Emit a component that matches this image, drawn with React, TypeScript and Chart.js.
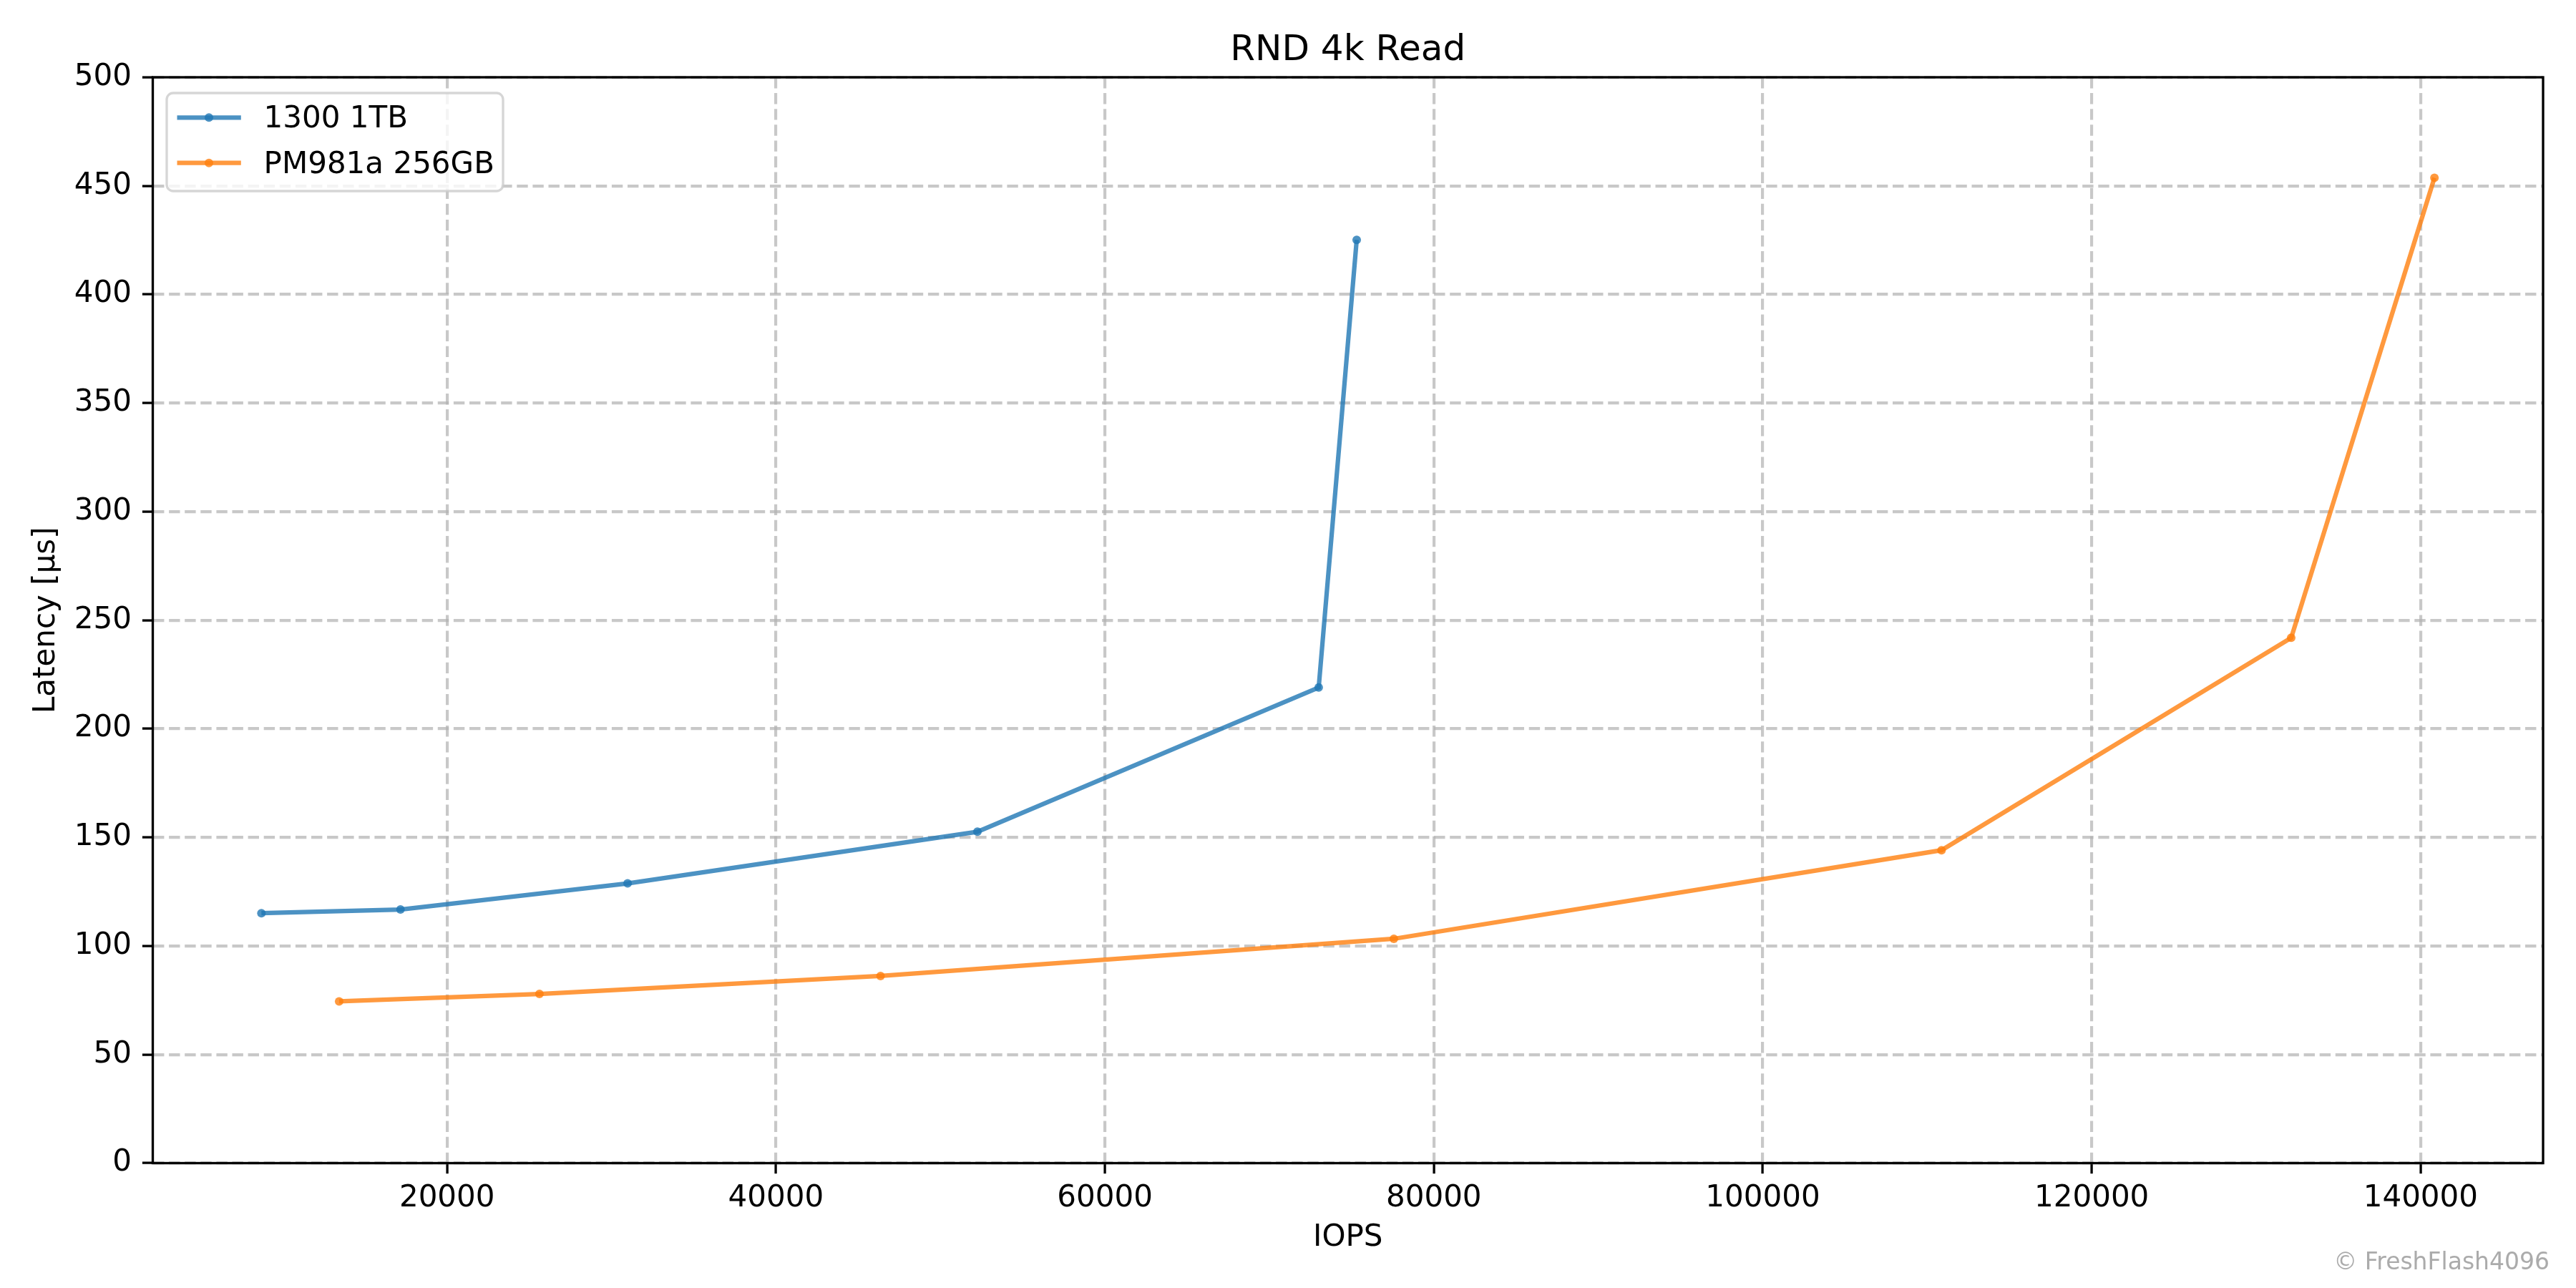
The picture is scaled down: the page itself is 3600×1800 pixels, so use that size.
import React, { useEffect, useRef } from "react";
import { Chart, registerables } from "chart.js";

Chart.register(...registerables);

const TITLE = "RND 4k Read";
const X_LABEL = "IOPS";
const Y_LABEL = "Latency [µs]";
const WATERMARK = "© FreshFlash4096";

const SERIES_NAMES = ["1300 1TB", "PM981a 256GB"];
const S1_IOPS = [8715, 17170, 30980, 52250, 73000, 75310];
const S1_LAT = [115.1, 116.8, 128.8, 152.6, 219.0, 425.1];
const S2_IOPS = [13440, 25620, 46360, 77570, 110870, 132130, 140840];
const S2_LAT = [74.5, 77.9, 86.2, 103.3, 144.1, 241.9, 453.7];

const X_TICKS = [20000, 40000, 60000, 80000, 100000, 120000, 140000];
const Y_TICKS = [0, 50, 100, 150, 200, 250, 300, 350, 400, 450, 500];

const COLORS = ["rgba(31,119,180,0.8)", "rgba(255,127,14,0.8)"];

const FONT_FAMILY = "'DejaVu Sans', 'Liberation Sans', sans-serif";

export default function App() {
  const canvasRef = useRef<HTMLCanvasElement | null>(null);

  useEffect(() => {
    const canvas = canvasRef.current;
    if (!canvas) return;

    const allX = [...S1_IOPS, ...S2_IOPS];
    const xMinData = Math.min(...allX);
    const xMaxData = Math.max(...allX);
    const xSpan = xMaxData - xMinData;
    const X_MIN = xMinData - 0.05 * xSpan;
    const X_MAX = xMaxData + 0.05 * xSpan;

    const overlayPlugin = {
      id: "overlay",
      afterDraw(chart: any) {
        const ctx = chart.ctx as CanvasRenderingContext2D;
        const a = chart.chartArea;
        ctx.save();
        // spines
        ctx.setLineDash([]);
        ctx.strokeStyle = "#000";
        ctx.lineWidth = 3.33;
        ctx.strokeRect(a.left, a.top, a.right - a.left, a.bottom - a.top);

        // title
        ctx.fillStyle = "#000";
        ctx.font = `50px ${FONT_FAMILY}`;
        ctx.textAlign = "center";
        ctx.textBaseline = "alphabetic";
        ctx.fillText(TITLE, (a.left + a.right) / 2, 84);

        // legend
        const bx = 233, by = 130, bw = 470, bh = 137;
        ctx.beginPath();
        if ((ctx as any).roundRect) (ctx as any).roundRect(bx, by, bw, bh, 9);
        else ctx.rect(bx, by, bw, bh);
        ctx.fillStyle = "rgba(255,255,255,0.8)";
        ctx.fill();
        ctx.strokeStyle = "rgba(204,204,204,0.8)";
        ctx.lineWidth = 3.33;
        ctx.stroke();

        const rows = [164.3, 227.7];
        const baselines = [178.3, 241.7];
        chart.data.datasets.forEach((ds: any, i: number) => {
          const y = rows[i];
          ctx.strokeStyle = ds.borderColor;
          ctx.lineWidth = 6.25;
          ctx.lineCap = "butt";
          ctx.beginPath();
          ctx.moveTo(247.5, y);
          ctx.lineTo(336.8, y);
          ctx.stroke();
          ctx.fillStyle = ds.borderColor;
          ctx.beginPath();
          ctx.arc(292, y, 6, 0, Math.PI * 2);
          ctx.fill();
          ctx.fillStyle = "#000";
          ctx.font = `42px ${FONT_FAMILY}`;
          ctx.textAlign = "left";
          ctx.textBaseline = "alphabetic";
          ctx.fillText(ds.label, 368.6, baselines[i]);
        });

        // watermark
        ctx.fillStyle = "#ababab";
        ctx.font = `33px ${FONT_FAMILY}`;
        ctx.textAlign = "right";
        ctx.textBaseline = "alphabetic";
        ctx.fillText(WATERMARK, 3563, 1774);
        ctx.restore();
      },
    };

    const tickFont = { family: FONT_FAMILY, size: 42 };
    const gridCommon = {
      color: "rgba(176,176,176,0.7)",
      lineWidth: 4.17,
      drawTicks: true,
      tickLength: 14.6,
      tickWidth: 3.33,
      tickColor: "#000",
      tickBorderDash: [],
    };
    const borderCommon = { display: false, dash: [15.4, 6.7] };

    const chart = new Chart(canvas, {
      type: "line",
      data: {
        datasets: [
          {
            label: SERIES_NAMES[0],
            data: S1_IOPS.map((x, i) => ({ x, y: S1_LAT[i] })),
            borderColor: COLORS[0],
            backgroundColor: COLORS[0],
            pointBackgroundColor: COLORS[0],
            borderWidth: 6.25,
            pointRadius: 6,
            pointBorderWidth: 0,
            tension: 0,
            fill: false,
          },
          {
            label: SERIES_NAMES[1],
            data: S2_IOPS.map((x, i) => ({ x, y: S2_LAT[i] })),
            borderColor: COLORS[1],
            backgroundColor: COLORS[1],
            pointBackgroundColor: COLORS[1],
            borderWidth: 6.25,
            pointRadius: 6,
            pointBorderWidth: 0,
            tension: 0,
            fill: false,
          },
        ],
      },
      options: {
        responsive: false,
        animation: false,
        devicePixelRatio: 1,
        layout: { padding: { top: 108, right: 46, left: 0, bottom: 0 } },
        plugins: {
          legend: { display: false },
          title: { display: false },
          tooltip: { enabled: false },
        },
        scales: {
          x: {
            type: "linear",
            min: X_MIN,
            max: X_MAX,
            afterFit: (s: any) => {
              s.height = 174.5;
            },
            afterBuildTicks: (s: any) => {
              s.ticks = X_TICKS.map((v) => ({ value: v }));
            },
            grid: gridCommon as any,
            border: borderCommon as any,
            ticks: {
              font: tickFont,
              color: "#000",
              padding: 10,
              maxRotation: 0,
              autoSkip: false,
              callback: (v: any) => String(v),
            },
            title: {
              display: true,
              text: X_LABEL,
              font: tickFont,
              color: "#000",
              padding: { top: 0, bottom: 45 },
            },
          },
          y: {
            type: "linear",
            min: 0,
            max: 500,
            afterFit: (s: any) => {
              s.width = 213.5;
            },
            afterBuildTicks: (s: any) => {
              s.ticks = Y_TICKS.map((v) => ({ value: v }));
            },
            grid: gridCommon as any,
            border: borderCommon as any,
            ticks: {
              font: tickFont,
              color: "#000",
              padding: 15,
              autoSkip: false,
              callback: (v: any) => String(v),
            },
            title: {
              display: true,
              text: Y_LABEL,
              font: tickFont,
              color: "#000",
              padding: { top: 40, bottom: 0 },
            },
          },
        },
      } as any,
      plugins: [overlayPlugin],
    });

    return () => {
      chart.destroy();
    };
  }, []);

  return (
    <div style={{ position: "absolute", left: 0, top: 0, width: 3600, height: 1800, background: "#fff" }}>
      <canvas ref={canvasRef} width={3600} height={1800} style={{ display: "block", width: 3600, height: 1800 }} />
    </div>
  );
}
